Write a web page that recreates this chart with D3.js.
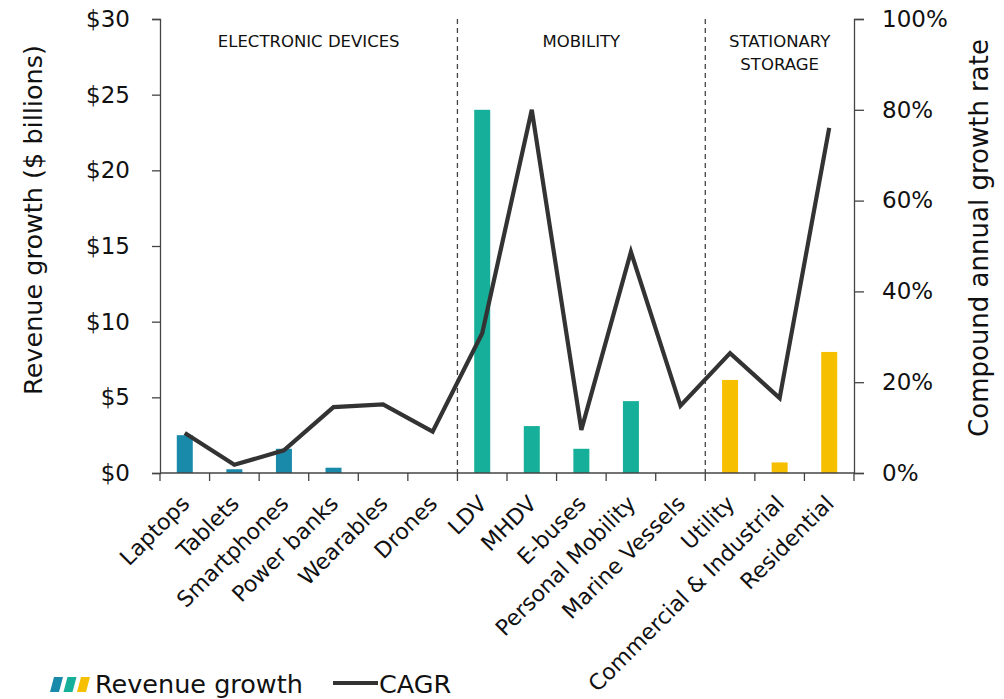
<!DOCTYPE html>
<html>
<head>
<meta charset="utf-8">
<script src="https://cdn.jsdelivr.net/npm/d3@7"></script>
<style>
  body { margin: 0; background: #fff; }
  svg text { font-family: "DejaVu Sans", Verdana, sans-serif; fill: #111; }
</style>
</head>
<body>
<svg id="chart" width="1004" height="699"></svg>
<script>
// Battery market segments
const categories = ["Laptops", "Tablets", "Smartphones", "Power banks", "Wearables", "Drones",
  "LDV", "MHDV", "E-buses", "Personal Mobility", "Marine Vessels",
  "Utility", "Commercial & Industrial", "Residential"];
const groups = ["electronics", "electronics", "electronics", "electronics", "electronics", "electronics",
  "mobility", "mobility", "mobility", "mobility", "mobility",
  "storage", "storage", "storage"];
// Revenue growth, $ billions
const revenueGrowth = [2.5, 0.25, 1.6, 0.35, 0, 0, 24.0, 3.1, 1.6, 4.75, 0, 6.15, 0.7, 8.0];
// Compound annual growth rate, %
const cagr = [8.8, 1.8, 5.0, 14.5, 15.1, 9.1, 30.8, 80.0, 9.5, 48.7, 14.8, 26.4, 16.5, 76.0];
const leftTicks = [0, 5, 10, 15, 20, 25, 30];
const rightTicks = [0, 20, 40, 60, 80, 100];
const sections = [
  { lines: ["ELECTRONIC DEVICES"], from: 0, to: 5 },
  { lines: ["MOBILITY"], from: 6, to: 10 },
  { lines: ["STATIONARY", "STORAGE"], from: 11, to: 13 }
];

const groupColor = { electronics: "#1a8aaa", mobility: "#16af99", storage: "#f6c000" };

const svg = d3.select("#chart");
const m = { left: 160, right: 854, top: 19, bottom: 473 };

const x = d3.scaleBand().domain(categories).range([m.left, m.right]).paddingInner(0).paddingOuter(0);
const yL = d3.scaleLinear().domain([0, 30]).range([m.bottom, m.top]);
const yR = d3.scaleLinear().domain([0, 100]).range([m.bottom, m.top]);
const barW = 16;

// Section separators
const bounds = [6, 11];
svg.append("g").selectAll("line").data(bounds).join("line")
  .attr("x1", d => x(categories[d])).attr("x2", d => x(categories[d]))
  .attr("y1", m.top).attr("y2", m.bottom)
  .attr("stroke", "#444").attr("stroke-width", 1.3).attr("stroke-dasharray", "5,4");

// Section titles
sections.forEach(s => {
  const cx = (x(categories[s.from]) + x(categories[s.to]) + x.bandwidth()) / 2;
  const t = svg.append("text").attr("x", cx).attr("y", 47)
    .attr("text-anchor", "middle").attr("font-size", 16.5);
  s.lines.forEach((ln, i) => t.append("tspan").attr("x", cx).attr("dy", i ? 23 : 0).text(ln));
});

// Bars
svg.append("g").selectAll("rect").data(categories).join("rect")
  .attr("x", d => x(d) + x.bandwidth() / 2 - barW / 2)
  .attr("width", barW)
  .attr("y", (d, i) => yL(revenueGrowth[i]))
  .attr("height", (d, i) => yL(0) - yL(revenueGrowth[i]))
  .attr("fill", (d, i) => groupColor[groups[i]]);

// CAGR line
const line = d3.line()
  .x((d, i) => x(categories[i]) + x.bandwidth() / 2)
  .y(d => yR(d));
svg.append("path").datum(cagr).attr("d", line)
  .attr("fill", "none").attr("stroke", "#333").attr("stroke-width", 4.2)
  .attr("stroke-linejoin", "miter");

// Axes
const axisL = svg.append("g").attr("transform", `translate(${m.left},0)`)
  .call(d3.axisLeft(yL).tickValues(leftTicks).tickSize(8).tickPadding(22).tickFormat(d => "$" + d));
const axisR = svg.append("g").attr("transform", `translate(${m.right},0)`)
  .call(d3.axisRight(yR).tickValues(rightTicks).tickSize(10).tickPadding(18).tickFormat(d => d + "%"));
[axisL, axisR].forEach(a => {
  a.select(".domain").attr("stroke", "#444").attr("stroke-width", 1.3);
  a.selectAll(".tick line").attr("stroke", "#444").attr("stroke-width", 1.3);
  a.selectAll(".tick text").attr("font-size", 23).attr("fill", "#111")
    .style("font-family", '"DejaVu Sans", Verdana, sans-serif');
});

// Bottom axis: ticks at category boundaries
const gx = svg.append("g");
gx.append("line").attr("x1", m.left).attr("x2", m.right).attr("y1", m.bottom).attr("y2", m.bottom)
  .attr("stroke", "#444").attr("stroke-width", 1.3);
const edges = categories.map(c => x(c)).concat([m.right]);
gx.selectAll("line.edge").data(edges).join("line").attr("class", "edge")
  .attr("x1", d => d).attr("x2", d => d).attr("y1", m.bottom).attr("y2", m.bottom + 8)
  .attr("stroke", "#444").attr("stroke-width", 1.3);
gx.selectAll("text").data(categories).join("text")
  .attr("transform", d => `translate(${x(d) + x.bandwidth() / 2 + 6},${m.bottom + 32}) rotate(-45)`)
  .attr("text-anchor", "end").attr("font-size", 22).text(d => d);

// Axis titles
svg.append("text").attr("transform", "translate(42,220) rotate(-90)")
  .attr("text-anchor", "middle").attr("font-size", 25.5).text("Revenue growth ($ billions)");
svg.append("text").attr("transform", "translate(988,238) rotate(-90)")
  .attr("text-anchor", "middle").attr("font-size", 26).text("Compound annual growth rate");

// Legend
const lg = svg.append("g").attr("transform", "translate(50,692)");
["electronics", "mobility", "storage"].forEach((g, i) => {
  const x0 = i * 13.5;
  lg.append("path")
    .attr("d", `M${x0 + 4},-15 L${x0 + 13},-15 L${x0 + 9},0 L${x0},0 Z`)
    .attr("fill", groupColor[g]);
});
lg.append("text").attr("x", 45).attr("y", 1).attr("font-size", 25.5).text("Revenue growth");
lg.append("line").attr("x1", 283).attr("x2", 328).attr("y1", -9).attr("y2", -9)
  .attr("stroke", "#333").attr("stroke-width", 4.2);
lg.append("text").attr("x", 329).attr("y", 1).attr("font-size", 25.5).text("CAGR");
</script>
</body>
</html>
